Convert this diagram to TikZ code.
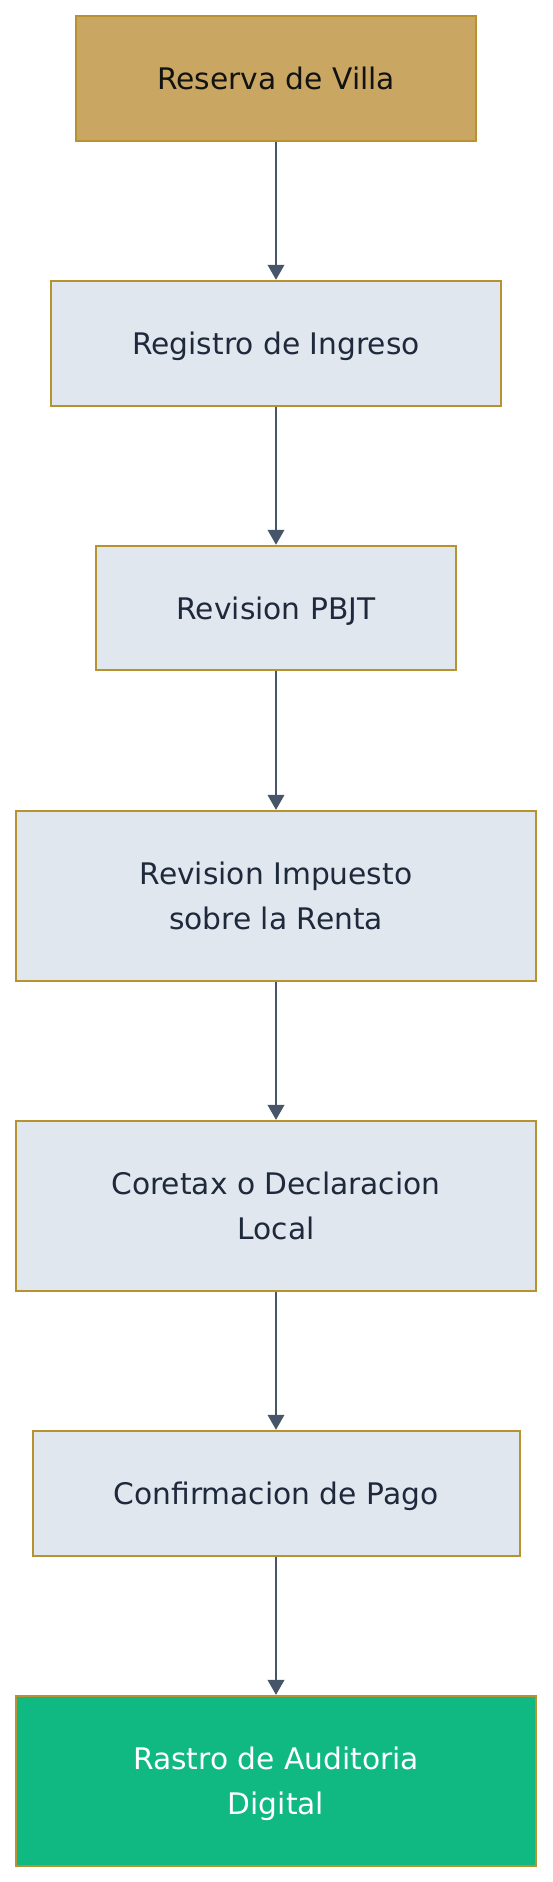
\documentclass[tikz,border=0pt]{standalone}
\usepackage{fontspec}
\setmainfont{DejaVu Sans}
\usetikzlibrary{arrows.meta}

\definecolor{villagold}{HTML}{C9A762}
\definecolor{boxedge}{HTML}{B8922E}
\definecolor{stepfill}{HTML}{E1E7EF}
\definecolor{steptext}{HTML}{1E293B}
\definecolor{auditgreen}{HTML}{10B981}
\definecolor{flowgray}{HTML}{475569}

\begin{document}
\begin{tikzpicture}[x=1pt,y=1pt]
	\useasboundingbox (0,0) rectangle (552,-1882);
	\begin{scope}[every node/.style={draw=boxedge,line width=2pt,inner sep=0pt,
		fill=stepfill,text=steptext,text depth=0pt,align=center,
		font=\fontsize{29.7}{44.5}\selectfont,minimum height=125pt}]
	\node[fill=villagold,text=black!93,minimum width=400pt] (P1) at (276,-78.4) {Reserva de Villa};
	\node[minimum width=450pt] (P2) at (276,-343.3) {Registro de Ingreso};
	\node[minimum width=360pt,minimum height=124pt] (P3) at (276,-607.8) {Revision PBJT};
	\node[minimum width=520pt,minimum height=170pt] (P4) at (276,-895.9) {Revision Impuesto\\sobre la Renta};
	\node[minimum width=520pt,minimum height=170pt] (P5) at (276,-1205.9) {Coretax o Declaracion\\Local};
	\node[minimum width=487pt] (P6) at (276,-1493.3) {Confirmacion de Pago};
	\node[fill=auditgreen,text=white,minimum width=520pt,minimum height=170pt] (P7) at (276,-1780.9) {Rastro de Auditoria\\Digital};
	\end{scope}
	
	\draw [->,>={Triangle[length=15pt,width=16.5pt]},draw=flowgray,fill=flowgray,line width=2.2pt] (P1) edge (P2);
	\draw [->,>={Triangle[length=15pt,width=16.5pt]},draw=flowgray,fill=flowgray,line width=2.2pt] (P2) edge (P3);
	\draw [->,>={Triangle[length=15pt,width=16.5pt]},draw=flowgray,fill=flowgray,line width=2.2pt] (P3) edge (P4);
	\draw [->,>={Triangle[length=15pt,width=16.5pt]},draw=flowgray,fill=flowgray,line width=2.2pt] (P4) edge (P5);
	\draw [->,>={Triangle[length=15pt,width=16.5pt]},draw=flowgray,fill=flowgray,line width=2.2pt] (P5) edge (P6);
	\draw [->,>={Triangle[length=15pt,width=16.5pt]},draw=flowgray,fill=flowgray,line width=2.2pt] (P6) edge (P7);
\end{tikzpicture}
\end{document}
